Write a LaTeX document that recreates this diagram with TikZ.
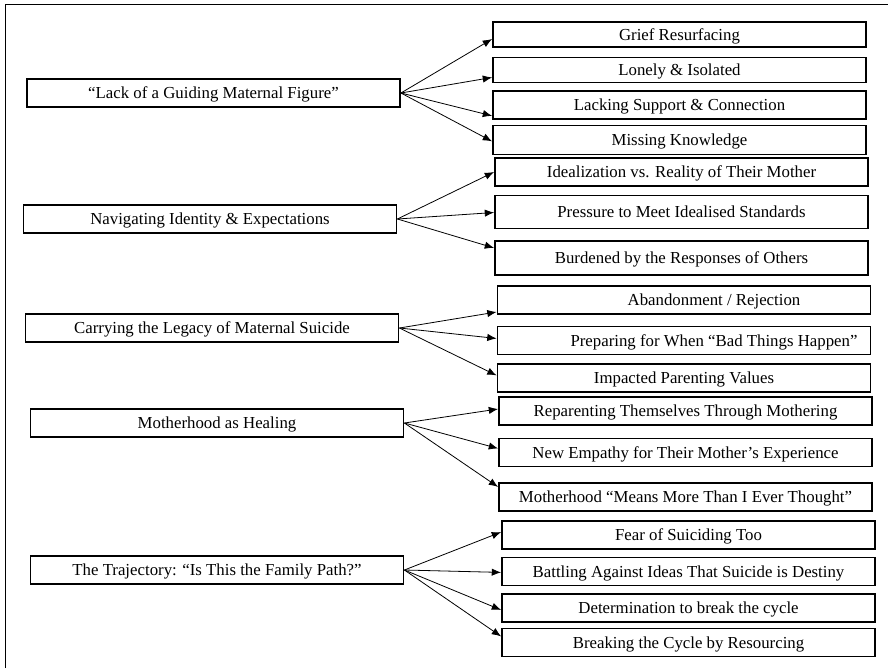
\documentclass[tikz,border=0pt]{standalone}
\usepackage{fontspec}
\setmainfont{Liberation Serif}
\usepackage{tikz}
\usetikzlibrary{positioning, arrows.meta}

\tikzset{
  theme/.style={rectangle, draw, line width=1.1pt, minimum width=280pt, minimum height=21pt, inner sep=2pt, text height=9.5pt, text depth=1pt, font=\fontsize{12.6}{14}\selectfont},
  sub/.style={theme},
  link/.style={line width=0.6pt, -{Latex[length=7pt, width=5.5pt]}}
}

\begin{document}
\begin{tikzpicture}[x=0.75pt, y=-0.75pt]
            \useasboundingbox (0,0) rectangle (888,668);
            \draw[line width=1.1pt] (5.5,668) -- (5.5,4.5) -- (888,4.5);

            % main themes
            \node[theme] (lack) at (213.5,93) {``Lack of a Guiding Maternal Figure''};
            \node[theme] (navig) at (210,219) {Navigating Identity \& Expectations};
            \node[theme] (legacy) at (212,328) {Carrying the Legacy of Maternal Suicide};
            \node[theme] (healing) at (217,423) {Motherhood as Healing};
            \node[theme] (traj) at (217,570) {The Trajectory: ``Is This the Family Path?''};

            % subthemes
            \node[sub, minimum height=18.75pt] (grief) at (679.5,34.5) {Grief Resurfacing};
            \node[sub, minimum height=18.75pt, below=6.75pt of grief] (lonely) {Lonely \& Isolated};
            \node[sub, below=5.25pt of lonely] (lacking) {Lacking Support \& Connection};
            \node[sub, minimum height=21.75pt, below=3.75pt of lacking] (missing) {Missing Knowledge};

            \node[sub] (ideal) at (681.5,172) {Idealization vs. Reality of Their Mother};
            \node[sub, minimum height=24.75pt, below=6pt of ideal] (pressure) {Pressure to Meet Idealised Standards};
            \node[sub, minimum height=25.5pt, below=8.25pt of pressure] (burden) {Burdened by the Responses of Others};

            \node[sub] (aband) at (684,300) {\hspace*{45pt}Abandonment / Rejection};
            \node[sub, below=8.25pt of aband] (prep) {\hspace*{45pt}Preparing for When ``Bad Things Happen''};
            \node[sub, below=6pt of prep] (impact) {Impacted Parenting Values};

            \node[sub] (reparent) at (685.5,411) {Reparenting Themselves Through Mothering};
            \node[sub, below=9pt of reparent] (empathy) {New Empathy for Their Mother's Experience};
            \node[sub, below=11.25pt of empathy] (means) {Motherhood ``Means More Than I Ever Thought''};

            \node[sub] (fear) at (688.5,535) {Fear of Suiciding Too};
            \node[sub, below=5.25pt of fear] (battle) {Battling Against Ideas That Suicide is Destiny};
            \node[sub, below=5.25pt of battle] (determ) {Determination to break the cycle};
            \node[sub, below=3.75pt of determ] (breaking) {Breaking the Cycle by Resourcing};

            \draw[link] (lack.east) -- ([yshift=-3.4pt]grief.west);
            \draw[link] (lack.east) -- ([yshift=-5.6pt]lonely.west);
            \draw[link] (lack.east) -- ([yshift=-8.2pt]lacking.west);
            \draw[link] (lack.east) -- ([yshift=-1.1pt]missing.west);

            \draw[link] (navig.east) -- (ideal.west);
            \draw[link] (navig.east) -- ([yshift=-0.4pt]pressure.west);
            \draw[link] (navig.east) -- ([yshift=7.5pt]burden.west);

            \draw[link] (legacy.east) -- ([yshift=-9pt]aband.west);
            \draw[link] (legacy.east) -- ([yshift=1.5pt]prep.west);
            \draw[link] (legacy.east) -- ([yshift=1.9pt]impact.west);

            \draw[link] (healing.east) -- ([yshift=1.5pt]reparent.west);
            \draw[link] (healing.east) -- ([yshift=3pt]empathy.west);
            \draw[link] (healing.east) -- ([yshift=7.5pt]means.west);

            \draw[link] (traj.east) -- ([yshift=2.2pt]fear.west);
            \draw[link] (traj.east) -- ([yshift=-0.7pt]battle.west);
            \draw[link] (traj.east) -- ([yshift=-1.5pt]determ.west);
            \draw[link] (traj.east) -- ([yshift=4.5pt]breaking.west);
        \end{tikzpicture}
\end{document}
